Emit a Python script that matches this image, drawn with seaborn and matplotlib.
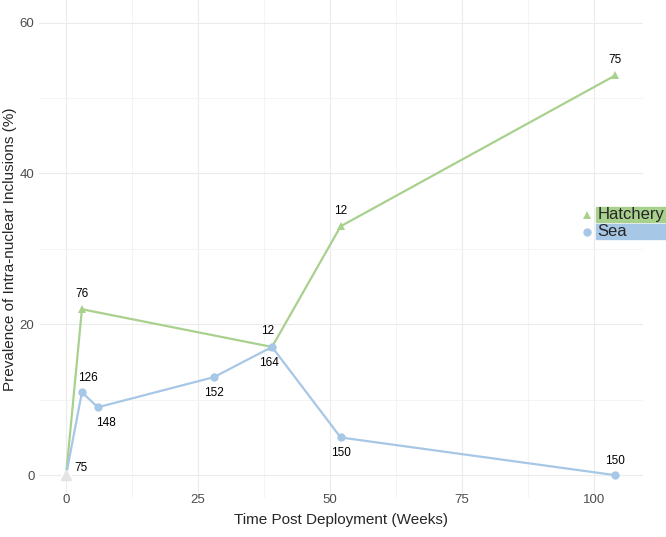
import matplotlib
matplotlib.use("Agg")
import matplotlib.pyplot as plt
import seaborn as sns
import pandas as pd
from matplotlib.ticker import MultipleLocator

# data
hatch_weeks = [0, 3, 39, 52, 104]
hatch_prev = [0, 22, 17, 33, 53]
hatch_n = [75, 76, 12, 12, 75]

sea_weeks = [0, 3, 6, 28, 39, 52, 104]
sea_prev = [0, 11, 9, 13, 17, 5, 0]
sea_n = [None, 126, 148, 152, 164, 150, 150]

GREEN = "#A9D18E"
BLUE = "#A7C7E7"

sns.set_theme(style="whitegrid")
plt.rcParams['font.family'] = ['Liberation Sans', 'DejaVu Sans']

df = pd.concat([
    pd.DataFrame({"week": hatch_weeks, "prev": hatch_prev, "group": "Hatchery"}),
    pd.DataFrame({"week": sea_weeks, "prev": sea_prev, "group": "Sea"}),
])

fig = plt.figure(figsize=(6.66, 5.37), dpi=100)
ax = fig.add_axes([0.058, 0.073, 0.907, 0.927])
ax.set_facecolor("white")

sns.lineplot(data=df, x="week", y="prev", hue="group", style="group",
             palette={"Hatchery": GREEN, "Sea": BLUE},
             markers={"Hatchery": "^", "Sea": "o"}, dashes=False,
             markersize=6, markeredgewidth=0, linewidth=1.6,
             legend=False, ax=ax, zorder=3)

# light marker at the origin, covering the first points
ax.plot([0], [0], marker="o", color="white", markersize=6.5, zorder=4)
ax.plot([0], [0], marker="^", color="#e4e4e4", markersize=7, zorder=5)

# sample size labels
hatch_off = [(11, 1), (0, 7), (-3, 7), (0, 7), (0, 7)]
for x, y, n, (dx, dy) in zip(hatch_weeks, hatch_prev, hatch_n, hatch_off):
    ax.annotate(str(n), (x, y), xytext=(dx, dy), textcoords="offset points",
                ha="center", va="bottom", fontsize=8.5, color="black")
sea_off = [None, (4, 6), (6, -7), (0, -7), (-2, -7), (0, -7), (0, 6)]
for x, y, n, off in zip(sea_weeks, sea_prev, sea_n, sea_off):
    if n is None:
        continue
    dx, dy = off
    ax.annotate(str(n), (x, y), xytext=(dx, dy), textcoords="offset points",
                ha="center", va="bottom" if dy > 0 else "top",
                fontsize=8.5, color="black")

ax.set_xlim(-5.2, 109.2)
ax.set_ylim(-3, 63)
ax.set_xticks([0, 25, 50, 75, 100])
ax.set_yticks([0, 20, 40, 60])
ax.xaxis.set_minor_locator(MultipleLocator(12.5))
ax.yaxis.set_minor_locator(MultipleLocator(10))
ax.grid(which="major", color="#ebebeb", linewidth=0.8)
ax.grid(which="minor", color="#f3f3f3", linewidth=0.6)
for s in ax.spines.values():
    s.set_visible(False)
ax.tick_params(axis="both", which="both", length=0, labelsize=9.5,
               labelcolor="#4d4d4d")
ax.tick_params(axis="x", pad=-3)
ax.tick_params(axis="y", pad=3)
ax.set_xlabel("Time Post Deployment (Weeks)", fontsize=11, labelpad=5)
ax.set_ylabel("Prevalence of Intra-nuclear Inclusions (%)", fontsize=11, labelpad=2)

# legend with coloured bands behind the labels
ax.plot([0.881], [0.600], transform=fig.transFigure, marker="^", color=GREEN,
        markersize=6, markeredgewidth=0, clip_on=False)
ax.plot([0.881], [0.568], transform=fig.transFigure, marker="o", color=BLUE,
        markersize=6, markeredgewidth=0, clip_on=False)
fig.patches.append(plt.Rectangle((0.895, 0.586), 0.2, 0.028, transform=fig.transFigure,
                                 color=GREEN, zorder=1))
fig.patches.append(plt.Rectangle((0.895, 0.555), 0.2, 0.028, transform=fig.transFigure,
                                 color=BLUE, zorder=1))
fig.text(0.897, 0.600, "Hatchery", fontsize=12, va="center", ha="left", zorder=2)
fig.text(0.897, 0.568, "Sea", fontsize=12, va="center", ha="left", zorder=2)

fig.savefig("out.png", dpi=100, facecolor="white")
